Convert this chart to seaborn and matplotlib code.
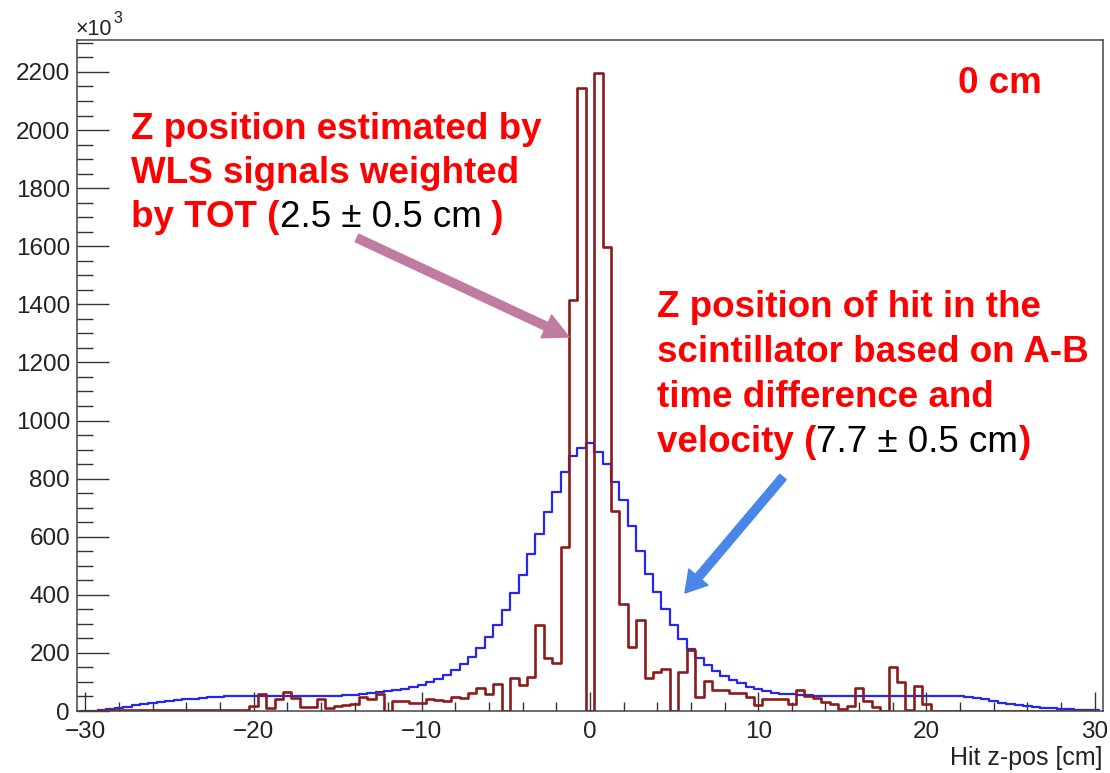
import numpy as np
import pandas as pd
import matplotlib
matplotlib.use("Agg")
import matplotlib.pyplot as plt
from matplotlib.transforms import IdentityTransform
from matplotlib.ticker import MultipleLocator
import seaborn as sns

# z-position bins: 0.5 cm wide, centred on multiples of 0.5 cm
z_centers = np.arange(-30.0, 30.25, 0.5)
z_edges = [float(e) for e in np.append(z_centers - 0.25, z_centers[-1] + 0.25)]

# hit z-position from A-B time difference and velocity (counts / 10^3)
tdiff_counts = [
    0, 1, 3, 6, 9, 14, 19, 24, 28, 32,
    35, 38, 40, 43, 45, 47, 48, 50, 51, 52,
    52, 51, 51, 50, 50, 50, 50, 50, 50, 51,
    52, 54, 56, 58, 61, 64, 68, 72, 77, 83,
    91, 100, 111, 125, 142, 162, 186, 217, 255, 295,
    347, 407, 467, 539, 610, 686, 755, 824, 879, 904,
    921, 893, 852, 787, 727, 638, 552, 472, 409, 351,
    295, 249, 215, 184, 158, 138, 120, 106, 95, 84,
    75, 68, 63, 60, 58, 56, 54, 52, 51, 50,
    50, 50, 50, 50, 50, 50, 50, 50, 50, 50,
    50, 50, 50, 50, 50, 48, 44, 40, 34, 29,
    25, 21, 17, 14, 12, 10, 8, 6, 5, 4,
    3,
]

# z-position from WLS signals weighted by TOT (counts / 10^3)
wls_counts = [
    0, 0, 3, 3, 3, 3, 3, 3, 3, 3,
    3, 3, 3, 3, 3, 3, 3, 3, 3, 3,
    17, 57, 9, 41, 66, 45, 15, 15, 43, 10,
    17, 22, 24, 49, 42, 57, 0, 36, 33, 26,
    26, 40, 38, 35, 48, 45, 61, 78, 58, 94,
    0, 112, 89, 118, 295, 181, 164, 564, 1416, 2146,
    0, 2197, 1596, 690, 370, 221, 312, 112, 135, 146,
    0, 135, 209, 49, 103, 72, 72, 61, 61, 49,
    21, 43, 43, 41, 25, 72, 50, 45, 30, 23,
    7, 16, 78, 35, 15, 0, 152, 100, 5, 87,
    25, 0, 0, 0, 0, 0, 0, 0, 0, 0,
    0, 0, 0, 0, 0, 0, 0, 0, 0, 0,
    0,
]

x_ticks = [-30, -20, -10, 0, 10, 20, 30]
y_ticks = list(range(0, 2201, 200))

tdiff_df = pd.DataFrame({"z": z_centers, "count": np.asarray(tdiff_counts, dtype=float)})
wls_df = pd.DataFrame({"z": z_centers, "count": np.asarray(wls_counts, dtype=float)})

sns.set_style("ticks")
plt.rcParams["font.family"] = ["Liberation Sans", "DejaVu Sans"]

W, H = 1110, 773
fig = plt.figure(figsize=(W / 100, H / 100), dpi=100)
ax = fig.add_axes([77 / W, (H - 711) / H, (1103 - 77) / W, (711 - 40) / H])

sns.histplot(data=tdiff_df, x="z", weights="count", bins=z_edges, element="step",
             fill=False, color="#2626f0", linewidth=1.6, ax=ax)
sns.histplot(data=wls_df, x="z", weights="count", bins=z_edges, element="step",
             fill=False, color="#8e1b1b", linewidth=1.9, ax=ax)

ax.set_xlim(-30.5, 30.5)
ax.set_ylim(0, 2310)
ax.set_xlabel("")
ax.set_ylabel("")
ax.set_xticks(x_ticks)
ax.set_yticks(y_ticks)
ax.xaxis.set_minor_locator(MultipleLocator(2))
ax.yaxis.set_minor_locator(MultipleLocator(50))
ax.tick_params(axis="x", which="major", direction="in", length=13.5, width=1.0,
               labelsize=17.5, pad=7, colors="#333333", labelcolor="#222222")
ax.tick_params(axis="x", which="minor", direction="in", length=6.8, width=1.0,
               colors="#333333")
ax.tick_params(axis="y", which="major", direction="in", length=23, width=1.0,
               labelsize=17.5, pad=5, colors="#333333", labelcolor="#222222")
ax.tick_params(axis="y", which="minor", direction="in", length=11.5, width=1.0,
               colors="#333333")
for side in ["top", "right", "bottom", "left"]:
    ax.spines[side].set_visible(True)
    ax.spines[side].set_color("#444444")
    ax.spines[side].set_linewidth(1.1)

renderer = fig.canvas.get_renderer()
px = IdentityTransform()


def write_run(x, y_img, pieces, size=26.5):
    """Write a line of differently styled text pieces on one baseline."""
    y = H - y_img
    for s, color, weight in pieces:
        t = fig.text(x, y, s, transform=px, color=color, fontsize=size,
                     fontweight=weight, ha="left", va="baseline")
        x = t.get_window_extent(renderer).x1


# axis exponent and axis title
t = fig.text(76, H - 35, "×10", transform=px, fontsize=15.5, color="#222222",
             ha="left", va="baseline")
fig.text(t.get_window_extent(renderer).x1 + 1, H - 23, "3", transform=px,
         fontsize=11.5, color="#222222", ha="left", va="baseline")
fig.text(1102, H - 765, "Hit z-pos [cm]", transform=px, fontsize=18,
         color="#222222", ha="right", va="baseline")

red = "#ff0000"
black = "#000000"
write_run(958, 93, [("0 cm", red, "bold")])

write_run(131, 139, [("Z position estimated by", red, "bold")])
write_run(131, 183, [("WLS signals weighted", red, "bold")])
write_run(131, 227, [("by TOT (", red, "bold"), ("2.5 ± 0.5 cm", black, "normal"),
                     (" )", red, "bold")])

write_run(657, 317, [("Z position of hit in the", red, "bold")])
write_run(657, 362, [("scintillator based on A-B", red, "bold")])
write_run(657, 407, [("time difference and", red, "bold")])
write_run(657, 452, [("velocity (", red, "bold"), ("7.7 ± 0.5 cm", black, "normal"),
                     (")", red, "bold")])

# arrows pointing at the two distributions
ax.annotate("", xy=(569, H - 337), xycoords="figure pixels",
            xytext=(357, H - 238), textcoords="figure pixels",
            arrowprops=dict(arrowstyle="simple,head_length=1.8,head_width=1.8,tail_width=0.6",
                            mutation_scale=10, color="#c07ba0", shrinkA=0, shrinkB=0))
ax.annotate("", xy=(685, H - 593), xycoords="figure pixels",
            xytext=(783, H - 477), textcoords="figure pixels",
            arrowprops=dict(arrowstyle="simple,head_length=1.5,head_width=1.8,tail_width=0.6",
                            mutation_scale=10, color="#4a86e8", shrinkA=0, shrinkB=0))

fig.savefig("out.png", dpi=100)
